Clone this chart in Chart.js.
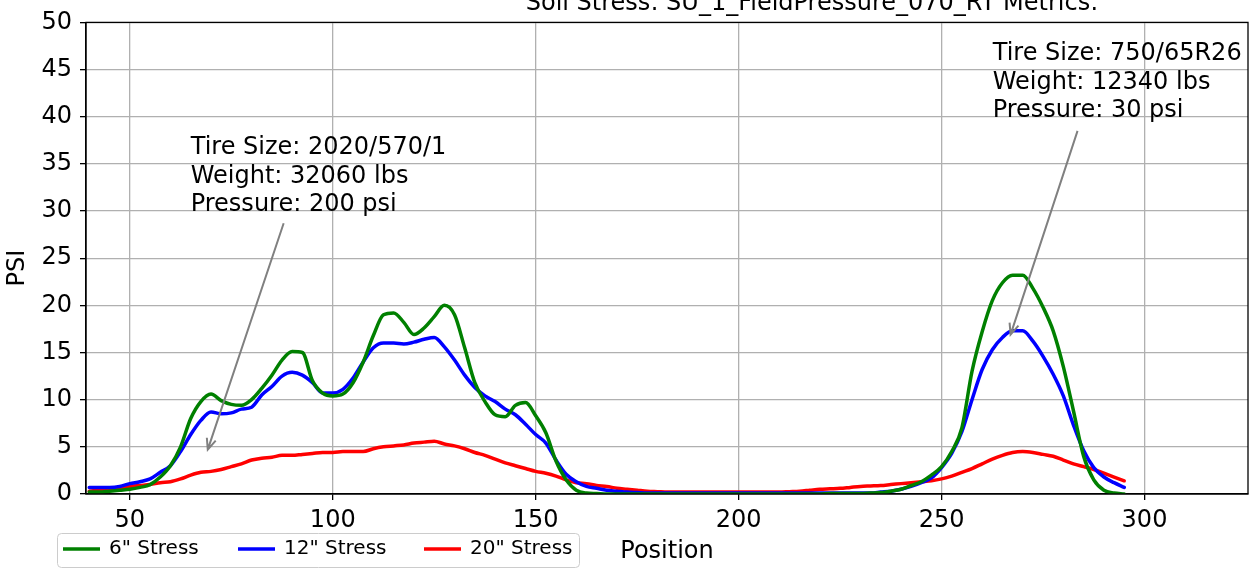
<!DOCTYPE html>
<html>
<head>
<meta charset="utf-8">
<script src="https://cdn.jsdelivr.net/npm/chart.js@4"></script>
<style>
  body { margin: 0; background: #fff; }
</style>
</head>
<body>
<canvas id="stressChart" width="1256" height="570"></canvas>
<script>
const chartTitle = 'Soil Stress: SU_1_FieldPressure_070_RT Metrics:';

const positions = [
    40, 42.5, 45, 47.5, 50, 52.5, 55, 57.5, 60, 62.5,
    65, 67.5, 70, 72.5, 75, 77.5, 80, 82.5, 85, 87.5,
    90, 92.5, 95, 97.5, 100, 102.5, 105, 107.5, 110, 112.5,
    115, 117.5, 120, 122.5, 125, 127.5, 130, 132.5, 135, 137.5,
    140, 142.5, 145, 147.5, 150, 152.5, 155, 157.5, 160, 162.5,
    165, 167.5, 170, 172.5, 175, 177.5, 180, 182.5, 185, 187.5,
    190, 192.5, 195, 197.5, 200, 202.5, 205, 207.5, 210, 212.5,
    215, 217.5, 220, 222.5, 225, 227.5, 230, 232.5, 235, 237.5,
    240, 242.5, 245, 247.5, 250, 252.5, 255, 257.5, 260, 262.5,
    265, 267.5, 270, 272.5, 275, 277.5, 280, 282.5, 285, 287.5,
    290, 292.5, 295
];

const stress6 = [
    0.2, 0.2, 0.3, 0.4, 0.5, 0.7, 1.0, 1.8, 3.0, 5.0,
    8.0, 9.8, 10.6, 9.9, 9.5, 9.4, 10.0, 11.2, 12.6, 14.2,
    15.1, 15.0, 12.0, 10.7, 10.4, 10.6, 11.8, 14.0, 16.8, 19.0,
    19.2, 18.2, 16.9, 17.6, 18.8, 20.0, 19.0, 15.5, 11.8, 9.8,
    8.4, 8.2, 9.4, 9.7, 8.3, 6.5, 3.5, 1.5, 0.4, 0.1,
    0.05, 0, 0, 0, 0, 0, 0, 0, 0, 0,
    0, 0, 0, 0, 0, 0, 0, 0, 0, 0,
    0, 0, 0, 0.05, 0.05, 0.05, 0.05, 0.1, 0.15, 0.3,
    0.5, 0.9, 1.3, 2.0, 2.9, 4.5, 7.0, 13.0, 17.2, 20.5,
    22.4, 23.2, 23.2, 21.8, 19.8, 17.3, 13.5, 8.8, 4.0, 1.5,
    0.4, 0.1, 0.0
];

const stress12 = [
    0.7, 0.7, 0.7, 0.8, 1.1, 1.3, 1.6, 2.3, 3.0, 4.5,
    6.3, 7.8, 8.7, 8.5, 8.6, 9.0, 9.2, 10.5, 11.4, 12.5,
    12.9, 12.6, 11.8, 10.7, 10.7, 11.1, 12.3, 14.0, 15.5, 16.0,
    16.0, 15.9, 16.1, 16.4, 16.6, 15.6, 14.2, 12.6, 11.3, 10.4,
    9.8, 9.0, 8.4, 7.4, 6.3, 5.4, 3.6, 2.1, 1.3, 0.8,
    0.6, 0.4, 0.3, 0.2, 0.15, 0.1, 0.1, 0.1, 0.1, 0.1,
    0.1, 0.1, 0.1, 0.1, 0.1, 0.1, 0.1, 0.1, 0.1, 0.1,
    0.1, 0.1, 0.1, 0.1, 0.1, 0.1, 0.1, 0.1, 0.2, 0.3,
    0.5, 0.8, 1.2, 1.7, 2.8, 4.3, 6.6, 10.0, 13.2, 15.3,
    16.6, 17.3, 17.3, 16.2, 14.6, 12.7, 10.4, 7.3, 4.6, 2.8,
    1.8, 1.2, 0.7
];

const stress20 = [
    0.3, 0.4, 0.5, 0.6, 0.8, 0.9, 1.0, 1.2, 1.3, 1.6,
    2.0, 2.3, 2.4, 2.6, 2.9, 3.2, 3.6, 3.8, 3.9, 4.1,
    4.1, 4.2, 4.3, 4.4, 4.4, 4.5, 4.5, 4.5, 4.8, 5.0,
    5.1, 5.2, 5.4, 5.5, 5.6, 5.3, 5.1, 4.8, 4.4, 4.1,
    3.7, 3.3, 3.0, 2.7, 2.4, 2.2, 1.9, 1.5, 1.2, 1.1,
    0.9, 0.8, 0.6, 0.5, 0.4, 0.3, 0.25, 0.2, 0.2, 0.2,
    0.2, 0.2, 0.2, 0.2, 0.2, 0.2, 0.2, 0.2, 0.2, 0.25,
    0.3, 0.4, 0.5, 0.55, 0.6, 0.7, 0.8, 0.85, 0.9, 1.0,
    1.1, 1.2, 1.3, 1.4, 1.6, 1.9, 2.3, 2.7, 3.2, 3.7,
    4.1, 4.4, 4.5, 4.4, 4.2, 4.0, 3.6, 3.2, 2.9, 2.6,
    2.2, 1.8, 1.4
];

const seriesLabels = ['6" Stress', '12" Stress', '20" Stress'];
const xTicks = [50, 100, 150, 200, 250, 300];
const yTicks = [0, 5, 10, 15, 20, 25, 30, 35, 40, 45, 50];

// annotations (data coordinates)
const annotations = [
    {
        lines: ['Tire Size: 2020/570/1', 'Weight: 32060 lbs', 'Pressure: 200 psi'],
        text: { x: 65, y: 36 },
        from: { x: 87.9, y: 28.7 },
        tip: { x: 69.2, y: 4.7 }
    },
    {
        lines: ['Tire Size: 750/65R26', 'Weight: 12340 lbs', 'Pressure: 30 psi'],
        text: { x: 262.6, y: 46 },
        from: { x: 283.5, y: 38.5 },
        tip: { x: 267, y: 16.9 }
    }
];

const FONT = 'DejaVu Sans';
Chart.defaults.font.family = FONT;

function toPoints(vals) {
    return vals.map((v, i) => ({ x: positions[i], y: v }));
}

const extras = {
    id: 'extras',
    afterDraw(chart) {
        const ctx = chart.ctx;
        const a = chart.chartArea;
        const xs = chart.scales.x;
        const ys = chart.scales.y;
        ctx.save();

        // full frame like matplotlib
        ctx.strokeStyle = '#000';
        ctx.lineWidth = 1.3;
        ctx.strokeRect(a.left, a.top, a.right - a.left, a.bottom - a.top);

        // annotations
        annotations.forEach(an => {
            ctx.fillStyle = '#000';
            ctx.font = '24px ' + FONT;
            ctx.textAlign = 'left';
            ctx.textBaseline = 'alphabetic';
            const tx = xs.getPixelForValue(an.text.x);
            const ty = ys.getPixelForValue(an.text.y);
            an.lines.forEach((l, i) => ctx.fillText(l, tx, ty + i * 28.5));

            const x1 = xs.getPixelForValue(an.from.x), y1 = ys.getPixelForValue(an.from.y);
            const x2 = xs.getPixelForValue(an.tip.x), y2 = ys.getPixelForValue(an.tip.y);
            ctx.strokeStyle = '#808080';
            ctx.lineWidth = 2;
            ctx.beginPath();
            ctx.moveTo(x1, y1);
            ctx.lineTo(x2, y2);
            const ang = Math.atan2(y1 - y2, x1 - x2);
            ctx.moveTo(x2 + 12 * Math.cos(ang - 0.4), y2 + 12 * Math.sin(ang - 0.4));
            ctx.lineTo(x2, y2);
            ctx.lineTo(x2 + 12 * Math.cos(ang + 0.4), y2 + 12 * Math.sin(ang + 0.4));
            ctx.stroke();
        });

        // title (cut off at the top, as in the source)
        ctx.fillStyle = '#000';
        ctx.font = '24px ' + FONT;
        ctx.textAlign = 'center';
        ctx.textBaseline = 'alphabetic';
        ctx.fillText(chartTitle, 812, 10);

        // axis titles
        ctx.textBaseline = 'middle';
        ctx.fillText('Position', 667, 552);
        ctx.save();
        ctx.translate(18, 268);
        ctx.rotate(-Math.PI / 2);
        ctx.fillText('PSI', 0, 0);
        ctx.restore();

        // legend box
        const bx = 57, by = 533, bw = 522, bh = 34;
        ctx.fillStyle = 'rgba(255,255,255,0.8)';
        ctx.strokeStyle = '#cccccc';
        ctx.lineWidth = 1;
        ctx.beginPath();
        ctx.roundRect(bx + 0.5, by + 0.5, bw, bh, 4);
        ctx.fill();
        ctx.stroke();

        const itemX = [63, 238, 424];
        ctx.font = '20px ' + FONT;
        ctx.textAlign = 'left';
        chart.data.datasets.forEach((ds, i) => {
            ctx.strokeStyle = ds.borderColor;
            ctx.lineWidth = 3.5;
            ctx.beginPath();
            ctx.moveTo(itemX[i], 549);
            ctx.lineTo(itemX[i] + 37, 549);
            ctx.stroke();
            ctx.fillStyle = '#000';
            ctx.fillText(ds.label, itemX[i] + 46, 549);
        });

        ctx.restore();
    }
};

const lineStyle = { borderWidth: 3.5, pointRadius: 0, cubicInterpolationMode: 'monotone', borderJoinStyle: 'round', borderCapStyle: 'round' };

const ctx = document.getElementById('stressChart').getContext('2d');
const chart = new Chart(ctx, {
    type: 'line',
    data: {
        datasets: [
            { label: seriesLabels[0], data: toPoints(stress6), borderColor: '#008000', ...lineStyle },
            { label: seriesLabels[1], data: toPoints(stress12), borderColor: '#0000ff', ...lineStyle },
            { label: seriesLabels[2], data: toPoints(stress20), borderColor: '#ff0000', ...lineStyle }
        ]
    },
    options: {
        responsive: false,
        animation: false,
        devicePixelRatio: 1,
        layout: { padding: { top: 16, right: 8, left: 0, bottom: 0 } },
        plugins: {
            legend: { display: false },
            tooltip: { enabled: false }
        },
        scales: {
            x: {
                type: 'linear',
                min: 39.2,
                max: 325.5,
                afterBuildTicks: s => { s.ticks = xTicks.map(v => ({ value: v })); },
                afterFit: s => { s.height = 76; },
                grid: { color: '#b0b0b0', lineWidth: 1.3, tickColor: '#000', tickLength: 6 },
                border: { color: '#000', width: 1.3 },
                ticks: { color: '#000', font: { size: 24 }, padding: 6, maxRotation: 0 }
            },
            y: {
                min: 0,
                max: 50,
                afterBuildTicks: s => { s.ticks = yTicks.map(v => ({ value: v })); },
                afterFit: s => { s.width = 86; },
                grid: { color: '#b0b0b0', lineWidth: 1.3, tickColor: '#000', tickLength: 6 },
                border: { color: '#000', width: 1.3 },
                ticks: { color: '#000', font: { size: 24 }, padding: 8 }
            }
        }
    },
    plugins: [extras]
});
</script>
</body>
</html>
